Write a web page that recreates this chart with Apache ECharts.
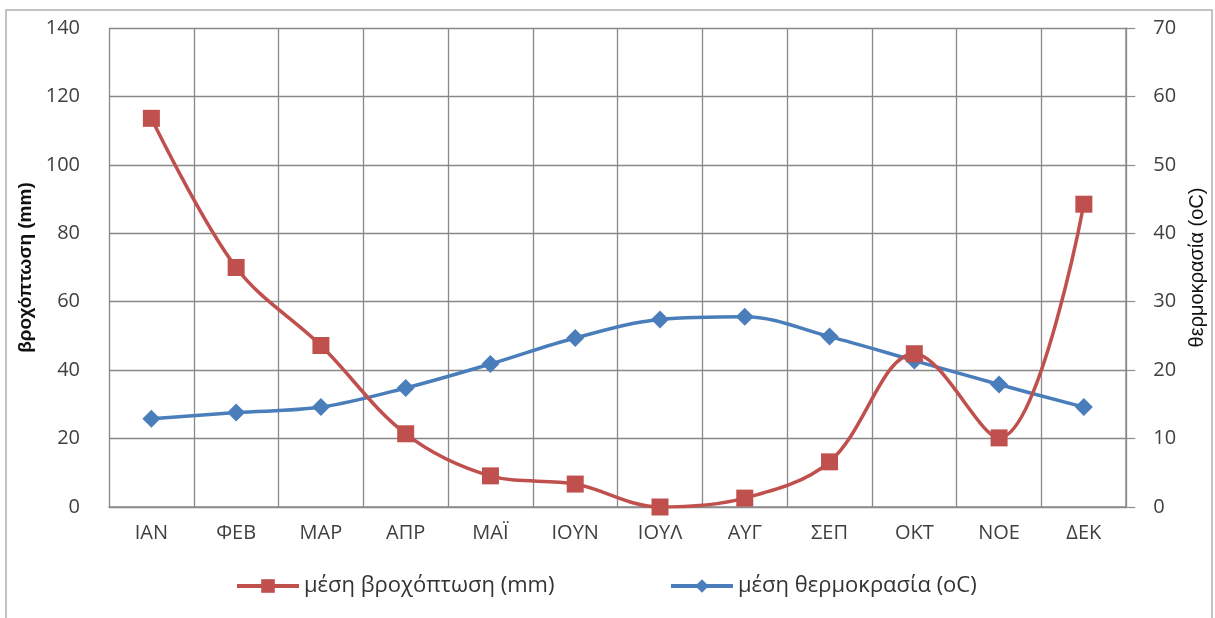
<!DOCTYPE html>
<html><head><meta charset="utf-8">
<script src="https://cdn.jsdelivr.net/npm/echarts@6/dist/echarts.min.js"></script>
<style>html,body{margin:0;padding:0;background:#fff}#c{width:1215px;height:618px}</style>
</head><body><div id="c"></div>
<script>
var months = ['ΙΑΝ','ΦΕΒ','ΜΑΡ','ΑΠΡ','ΜΑΪ','ΙΟΥΝ','ΙΟΥΛ','ΑΥΓ','ΣΕΠ','ΟΚΤ','ΝΟΕ','ΔΕΚ'];
var rainfall = [113.6, 70.0, 47.2, 21.4, 9.1, 6.7, 0, 2.6, 13.2, 44.8, 20.2, 88.5];
var temperature = [12.9, 13.8, 14.6, 17.4, 20.9, 24.7, 27.4, 27.8, 24.9, 21.4, 17.9, 14.6];
var rainName = 'μέση βροχόπτωση (mm)';
var tempName = 'μέση θερμοκρασία (oC)';

var font = 'Open Sans';
var legendText = {fontSize: 22, color: '#333', fontFamily: font};
var chart = echarts.init(document.getElementById('c'));
chart.setOption({
  backgroundColor: '#fff',
  animation: false,
  textStyle: {fontFamily: font},
  graphic: [{type:'rect', shape:{x:6,y:10,width:1206,height:620}, style:{fill:'none', stroke:'#b0b0b0', lineWidth:1.5}, z:-1}],
  grid: {left:109, right:86, top:28, bottom:111},
  legend: [{
    top: 570, left: 230, itemWidth: 62, itemHeight: 17, itemGap: 4,
    lineStyle: {width: 4}, textStyle: legendText, data: [rainName]
  }, {
    top: 570, left: 664, itemWidth: 62, itemHeight: 17,
    lineStyle: {width: 4}, textStyle: legendText, data: [tempName]
  }],
  xAxis: {
    type: 'category', data: months, boundaryGap: true,
    axisLine: {lineStyle: {color: '#8c8c8c', width: 1.5}},
    axisTick: {show: false},
    splitLine: {show: true, lineStyle: {color: '#888', width: 1.3}},
    axisLabel: {fontSize: 20, color: '#404040', margin: 16, fontFamily: font}
  },
  yAxis: [{
    type: 'value', min: 0, max: 140, interval: 20,
    name: 'βροχόπτωση (mm)', nameLocation: 'middle', nameGap: 68, nameRotate: 90,
    nameTextStyle: {fontSize: 19, color: '#111', fontWeight: 'bold', fontFamily: 'Liberation Sans Narrow, Liberation Sans'},
    axisLine: {show: false}, axisTick: {show: false},
    splitLine: {lineStyle: {color: '#888', width: 1.3}},
    axisLabel: {fontSize: 20, color: '#404040', margin: 29, fontFamily: font}
  }, {
    type: 'value', min: 0, max: 70, interval: 10, position: 'right',
    name: 'θερμοκρασία (oC)', nameLocation: 'middle', nameGap: 54, nameRotate: 90,
    nameTextStyle: {fontSize: 20, color: '#111', fontFamily: 'Liberation Sans Narrow, Liberation Sans'},
    axisLine: {show: true, lineStyle: {color: '#8c8c8c', width: 1.5}},
    axisTick: {show: true, length: 9, lineStyle: {color: '#8c8c8c', width: 1.2}},
    splitLine: {show: false},
    axisLabel: {fontSize: 20, color: '#404040', margin: 27, fontFamily: font}
  }],
  series: [{
    name: rainName, type: 'line', data: rainfall, yAxisIndex: 0, smooth: 0.35,
    symbol: 'rect', symbolSize: 17,
    lineStyle: {color: '#C0504D', width: 3.5},
    itemStyle: {color: '#C0504D'}, z: 3
  }, {
    name: tempName, type: 'line', data: temperature, yAxisIndex: 1, smooth: 0.35,
    symbol: 'diamond', symbolSize: 18,
    lineStyle: {color: '#4A7EBB', width: 3.5},
    itemStyle: {color: '#4A7EBB'}, z: 2
  }]
});
</script></body></html>
